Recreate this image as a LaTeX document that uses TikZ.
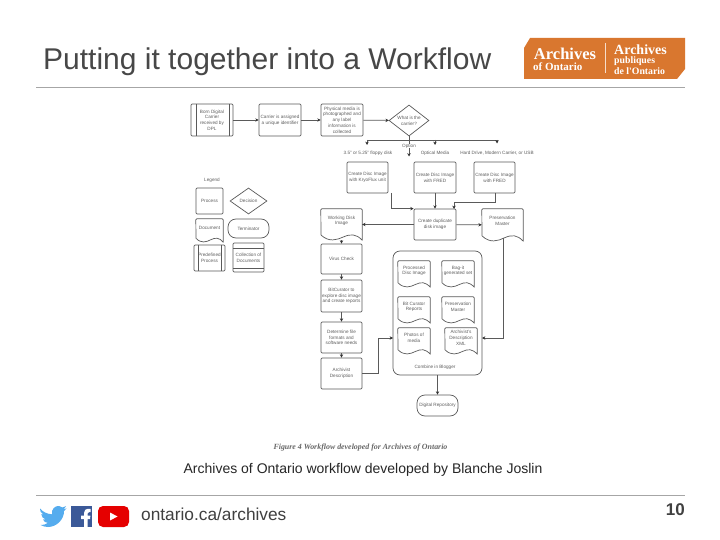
\documentclass[tikz,border=0pt]{standalone}
\usepackage{fontspec}
\setmainfont{Liberation Sans}
\newfontfamily\serifx{Liberation Serif}
\usetikzlibrary{arrows.meta,shapes.geometric}
\definecolor{ln}{HTML}{5A5A5A}
\definecolor{tx}{HTML}{5E5E5E}
\definecolor{rule}{HTML}{A6A6A6}
\definecolor{org}{HTML}{D9772F}
\definecolor{twit}{HTML}{55ACEE}
\definecolor{fbk}{HTML}{3B5998}
\tikzset{
 wf/.style={font=\fontsize{4.65}{5.7}\selectfont,text=tx,align=center,inner sep=0pt},
 proc/.style={wf,draw=ln,line width=0.7pt,rounded corners=1.2pt},
 term/.style={wf,draw=ln,line width=0.7pt,rounded corners=8pt},
 dia/.style={wf,draw=ln,line width=0.7pt,diamond,aspect=1.3},
 ghost/.style={wf},
 lab/.style={wf},
 conn/.style={draw=ln,line width=0.7pt,-{Stealth[length=3.4pt,width=3.4pt,color=black!80]}},
 plainln/.style={draw=ln,line width=0.7pt},
 ruleln/.style={draw=rule,line width=0.9pt},
}
% style, name, x1, y1, x2, y2, text
\newcommand{\bx}[7]{%
 \pgfmathsetmacro{\bw}{#5-#3}\pgfmathsetmacro{\bh}{#6-#4}%
 \pgfmathsetmacro{\bcx}{(#3+#5)/2}\pgfmathsetmacro{\bcy}{(#4+#6)/2}%
 \node[#1,minimum width=\bw pt,minimum height=\bh pt] (#2) at (\bcx,\bcy) {#7};}
% document shape: name, x1,y1,x2,y2, text
\newcommand{\doc}[6]{%
 \pgfmathsetmacro{\bw}{#4-#2}\pgfmathsetmacro{\bh}{#5-#3}%
 \pgfmathsetmacro{\bcx}{(#2+#4)/2}\pgfmathsetmacro{\bcy}{(#3+#5)/2}%
 \pgfmathsetmacro{\ya}{#5-.16*\bh}\pgfmathsetmacro{\xa}{#2+.2*\bw}\pgfmathsetmacro{\xb}{#2+.38*\bw}%
 \pgfmathsetmacro{\xc}{#2+.55*\bw}\pgfmathsetmacro{\xd}{#2+.72*\bw}\pgfmathsetmacro{\xe}{#2+.86*\bw}%
 \pgfmathsetmacro{\yb}{#5+.08*\bh}\pgfmathsetmacro{\yc}{#5-.1*\bh}\pgfmathsetmacro{\yd}{#5-.2*\bh}%
 \pgfmathsetmacro{\ytx}{\bcy-.12*\bh}%
 \node[ghost,minimum width=\bw pt,minimum height=\bh pt,shape=rectangle] (#1) at (\bcx,\bcy) {};%
 \node[lab] (#1t) at (\bcx,\ytx) {#6};%
 \draw[plainln,line join=round] (#2,\ya) -- ([yshift=-1pt]#1.north west) -- ([xshift=1pt]#1.north west) -- ([xshift=-1pt]#1.north east) -- ([yshift=-1pt]#1.north east) -- (#1.south east)
   .. controls (\xe,\yd) and (\xd,\yd) .. (\xc,\yc) .. controls (\xb,#5) and (\xa,\yb) .. (#2,\ya);}
\begin{document}
\begin{tikzpicture}[x=1pt,y=-1pt]
\useasboundingbox (0,0) rectangle (720,540);
\fill[white] (0,0) rectangle (720,540);

% header
\node[anchor=west,inner sep=0pt,text=black!72,font=\fontsize{30}{30}\selectfont] (title) at (43,62) {Putting it together into a Workflow};
\coordinate (r1a) at (36,87.5); \coordinate (r1b) at (685,87.5);
\draw[ruleln] (r1a) -- (r1b);

% logo
\fill[org] (530,38) -- (685,38) -- (685,69) -- (677,79) -- (524,79) -- (524,48) -- cycle;
\draw[white!75!org,line width=0.6pt] (605,43) -- (605,73);
\node[text=white,inner sep=0pt,font=\serifx\bfseries\fontsize{16.5}{16.5}\selectfont] (la) at (565,53.5) {Archives};
\node[text=white,inner sep=0pt,font=\serifx\bfseries\fontsize{11}{11}\selectfont,anchor=west] (lb) at (533,67) {of Ontario};
\node[text=white,inner sep=0pt,font=\serifx\bfseries\fontsize{14}{14}\selectfont,anchor=west] (lc) at (614,49.5) {Archives};
\node[text=white,inner sep=0pt,font=\serifx\bfseries\fontsize{9.8}{9.8}\selectfont,anchor=west] (ld) at (614,61.5) {publiques};
\node[text=white,inner sep=0pt,font=\serifx\bfseries\fontsize{9.8}{9.8}\selectfont,anchor=west] (le) at (614,71) {de l'Ontario};

% top row
\bx{proc}{born}{191}{104}{233}{136}{Born Digital\\Carrier\\received by\\DPL}
\draw[plainln] (196,104) -- (196,136) (229,104) -- (229,136);
\bx{proc}{carrier}{259}{104}{301}{136}{Carrier is assigned\\a unique identifier}
\bx{proc}{photo}{321}{104}{363}{136}{Physical media is\\photographed and\\any label\\information is\\collected}
\node[dia,minimum width=40pt,minimum height=31pt] (what) at (409,120.5) {What is the\\carrier?};
\draw[conn] (born) -- (carrier);
\draw[conn] (carrier) -- (photo);
\draw[conn] (photo) -- (what);

% option
\node[lab] (opt) at (409,146) {Option};
\coordinate (hl) at (367,140); \coordinate (hm) at (435,140); \coordinate (hr) at (497,140);
\draw[plainln] (what.south) -- (opt.north);
\draw[plainln] (hl) -- (hr);
\draw[conn] (hl) -- ++(0,5);
\draw[conn] (hm) -- ++(0,5);
\draw[conn] (hr) -- ++(0,3.5);
\coordinate (od) at (409,156.5);
\draw[conn] (opt.south) -- (od);
\node[lab] (l1) at (368,153.5) {3.5'' or 5.25'' floppy disk};
\node[lab] (l2) at (435,153.5) {Optical Media};
\node[lab] (l3) at (497,153.5) {Hard Drive, Modern Carrier, or USB};

% create disc images
\bx{proc}{kf}{347}{162}{388}{193}{Create Disc Image\\with KryoFlux unit}
\bx{proc}{fr}{414}{162}{456}{193}{Create Disc Image\\with FRED}
\bx{proc}{fr2}{474}{162}{515}{193}{Create Disc Image\\with FRED}
\bx{proc}{dup}{414}{209}{456}{240}{Create duplicate\\disk image}
\doc{pres}{482}{209}{523}{241}{Preservation\\Master}
\doc{work}{321}{209}{362}{240}{Working Disk\\Image}
\coordinate (kfo) at (391,193);
\draw[conn] (kfo) |- (dup.north west);
\draw[conn] (fr) -- (dup);
\coordinate (fa) at (495,193); \coordinate (fb) at (495,202); \coordinate (fc) at (454,202); \coordinate (fd) at (454,209);
\draw[conn] (fa) -- (fb) -- (fc) -- (fd);
\draw[conn] (dup) -- (work);
\draw[conn] (dup) -- (pres);

% left column
\bx{proc}{virus}{321}{244}{362}{274}{Virus Check}
\bx{proc}{bit}{321}{280}{362}{312}{BitCurator to\\explore disc image\\and create reports}
\bx{proc}{det}{321}{322}{362}{353}{Determine file\\formats and\\software needs}
\bx{proc}{arch}{321}{358}{362}{389}{Archivist\\Description}
\draw[conn] (work) -- (virus);
\draw[conn] (virus) -- (bit);
\draw[conn] (bit) -- (det);
\draw[conn] (det) -- (arch);

% container
\node[wf,draw=ln,line width=0.7pt,rounded corners=7pt,minimum width=89pt,minimum height=124pt] (cont) at (437.5,313) {};
\doc{d1}{398}{261}{430}{287}{Processed\\Disc Image}
\doc{d2}{442}{261}{474}{287}{Bag-it\\generated set}
\doc{d3}{398}{297}{430}{323}{Bit Curator\\Reports}
\doc{d4}{442}{297}{474}{323}{Preservation\\Master}
\doc{d5}{398}{328}{430}{354}{Photos of\\media}
\doc{d6}{445}{328}{477}{354}{Archivist's\\Description\\XML}
\node[lab] (comb) at (435,367) {Combine in Blogger};
\bx{term}{repo}{417}{395}{458}{416}{Digital Repository}
\draw[conn] (cont.south) -- (repo.north);
\coordinate (pa) at (503,238); \coordinate (pb) at (503,338); \coordinate (pc) at (482,338);
\draw[conn] (pa) -- (pb) -- (pc);
\coordinate (aa) at (362,373); \coordinate (ab) at (378,373); \coordinate (ac) at (378,338); \coordinate (ad) at (393,338);
\draw[conn] (aa) -- (ab) -- (ac) -- (ad);

% legend
\node[lab] (leg) at (212,180) {Legend};
\bx{proc}{lp}{196}{188}{223}{214}{Process}
\node[dia,minimum width=37pt,minimum height=26pt,inner sep=0pt] (ld1) at (248.5,201) {Decision};
\doc{ldoc}{196}{219}{223}{242}{Document}
\bx{term}{lt}{228}{219}{269}{238}{Terminator}
\bx{proc}{lpp}{194}{245}{225}{271}{Predefined\\Process}
\draw[plainln] (198,245) -- (198,271) (221,245) -- (221,271);
\bx{proc}{lc1}{233}{243}{264}{272}{Collection of\\Documents}
\draw[plainln] (233,248) -- (264,248) (233,268) -- (264,268);

% captions
\node[text=black!60,inner sep=0pt,font=\serifx\bfseries\itshape\fontsize{7.9}{8}\selectfont] (cap) at (360.5,447.5) {Figure 4 Workflow developed for Archives of Ontario};
\node[text=black!85,inner sep=0pt,font=\fontsize{14}{15}\selectfont] (cap2) at (363,470) {Archives of Ontario workflow developed by Blanche Joslin};

% footer
\coordinate (r2a) at (36,495.5); \coordinate (r2b) at (685,495.5);
\draw[ruleln] (r2a) -- (r2b);
\node[anchor=west,inner sep=0pt,text=black!75,font=\fontsize{17.3}{17.3}\selectfont] (url) at (141,514.5) {ontario.ca/archives};
\node[anchor=east,inner sep=0pt,text=black!75,font=\bfseries\fontsize{17}{17}\selectfont] (pg) at (685,510) {10};

% twitter
\fill[twit] (40,508.5) .. controls (43,512) and (47,514) .. (52,514.3)
 .. controls (51,509.5) and (55,505.5) .. (59,506) .. controls (60.5,506) and (61.5,506.6) .. (62.3,507.4)
 .. controls (63.5,507.2) and (64.8,506.8) .. (66,506.2) .. controls (65.6,507.5) and (64.8,508.5) .. (63.7,509.2)
 .. controls (64.8,509.1) and (65.8,508.8) .. (66.5,508.4) .. controls (65.8,509.6) and (64.9,510.4) .. (64,511.1)
 .. controls (64.2,519) and (57,527) .. (48,527) .. controls (45.5,527) and (43,526.3) .. (40.5,525)
 .. controls (43,525.2) and (45.8,524.5) .. (47.8,522.9) .. controls (45.5,522.8) and (43.8,521.5) .. (43,519.4)
 .. controls (44,519.6) and (44.8,519.5) .. (45.5,519.3) .. controls (43,518.7) and (41.3,516.5) .. (41.3,514)
 .. controls (42,514.4) and (42.8,514.6) .. (43.7,514.7) .. controls (41,512.8) and (39.5,511) .. (40,508.5) -- cycle;
% facebook
\fill[fbk] (71,506) rectangle (92,527);
\fill[white] (84,527) -- (84,519) -- (81,519) -- (81,515.5) -- (84,515.5) -- (84,513) .. controls (84,510) and (86,508.8) .. (88,508.8) -- (90.5,509) -- (90.5,512) -- (89,512) .. controls (87.8,512) and (87.6,512.6) .. (87.6,513.4) -- (87.6,515.5) -- (90.4,515.5) -- (90,519) -- (87.6,519) -- (87.6,527) -- cycle;
% youtube
\fill[red!90!black,rounded corners=5pt] (98,506) rectangle (129,527);
\fill[white] (110,512.5) -- (117.5,516.5) -- (110,520.5) -- cycle;
\end{tikzpicture}
\end{document}
